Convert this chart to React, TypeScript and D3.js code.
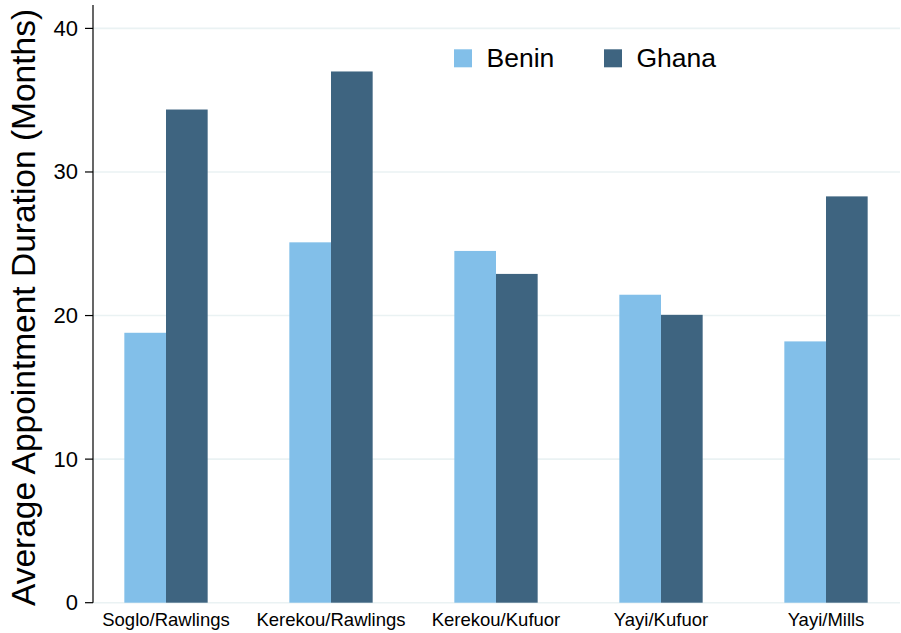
import React from "react";
import * as d3 from "d3";

const categories = ["Soglo/Rawlings", "Kerekou/Rawlings", "Kerekou/Kufuor", "Yayi/Kufuor", "Yayi/Mills"];
const seriesNames = ["Benin", "Ghana"];
const beninValues = [18.8, 25.1, 24.5, 21.45, 18.2];
const ghanaValues = [34.35, 37.0, 22.9, 20.05, 28.3];
const yTicks = [0, 10, 20, 30, 40];
const colors = ["#82bfe9", "#3e6480"];
const yTitle = "Average Appointment Duration (Months)";

const W = 901;
const H = 633;
const FONT = "'Liberation Sans', Arial, Helvetica, sans-serif";

export default function App() {
  const axisX = 93;
  const plotRight = 900;
  const y = d3.scaleLinear().domain([0, 40]).range([602.7, 28.4]);
  const x = d3
    .scaleBand<string>()
    .domain(categories)
    .range([83.5, 908.5])
    .paddingInner(0.495)
    .paddingOuter(0.2475);
  const xs = d3.scaleBand<string>().domain(seriesNames).range([0, x.bandwidth()]);
  const series = [beninValues, ghanaValues];

  return (
    <svg width={W} height={H} style={{ position: "absolute", left: 0, top: 0, background: "#fff" }}>
      <rect x={0} y={0} width={W} height={H} fill="#fff" />
      {yTicks.map((t) => (
        <line key={"g" + t} x1={axisX} x2={plotRight} y1={y(t)} y2={y(t)} stroke="#eaf2f3" strokeWidth={1.6} />
      ))}
      {categories.map((c, i) =>
        series.map((vals, s) => {
          const x0 = (x(c) as number) + (xs(seriesNames[s]) as number);
          return (
            <rect
              key={c + s}
              x={x0}
              y={y(vals[i])}
              width={xs.bandwidth()}
              height={y(0) - y(vals[i])}
              fill={colors[s]}
            />
          );
        })
      )}
      <line x1={axisX} x2={axisX} y1={5} y2={y(0)} stroke="#000" strokeWidth={1.2} />
      {yTicks.map((t) => (
        <g key={"t" + t}>
          <line x1={axisX - 8} x2={axisX} y1={y(t)} y2={y(t)} stroke="#000" strokeWidth={1.2} />
          <text
            x={78}
            y={y(t)}
            textAnchor="end"
            dominantBaseline="central"
            fontFamily={FONT}
            fontSize={22}
            fill="#000"
          >
            {t}
          </text>
        </g>
      ))}
      {categories.map((c) => (
        <text
          key={"l" + c}
          x={(x(c) as number) + x.bandwidth() / 2}
          y={625.5}
          textAnchor="middle"
          fontFamily={FONT}
          fontSize={18.5}
          fill="#000"
        >
          {c}
        </text>
      ))}
      <text
        transform={`translate(34.5, 307.5) rotate(-90)`}
        textAnchor="middle"
        fontFamily={FONT}
        fontSize={33.5}
        fill="#000"
      >
        {yTitle}
      </text>
      {seriesNames.map((n, i) => {
        const lx = [454, 604][i];
        return (
          <g key={"lg" + n}>
            <rect x={lx} y={49.3} width={18} height={18} fill={colors[i]} />
            <text x={lx + 32.5} y={66.7} fontFamily={FONT} fontSize={26.5} fill="#000">
              {n}
            </text>
          </g>
        );
      })}
    </svg>
  );
}
